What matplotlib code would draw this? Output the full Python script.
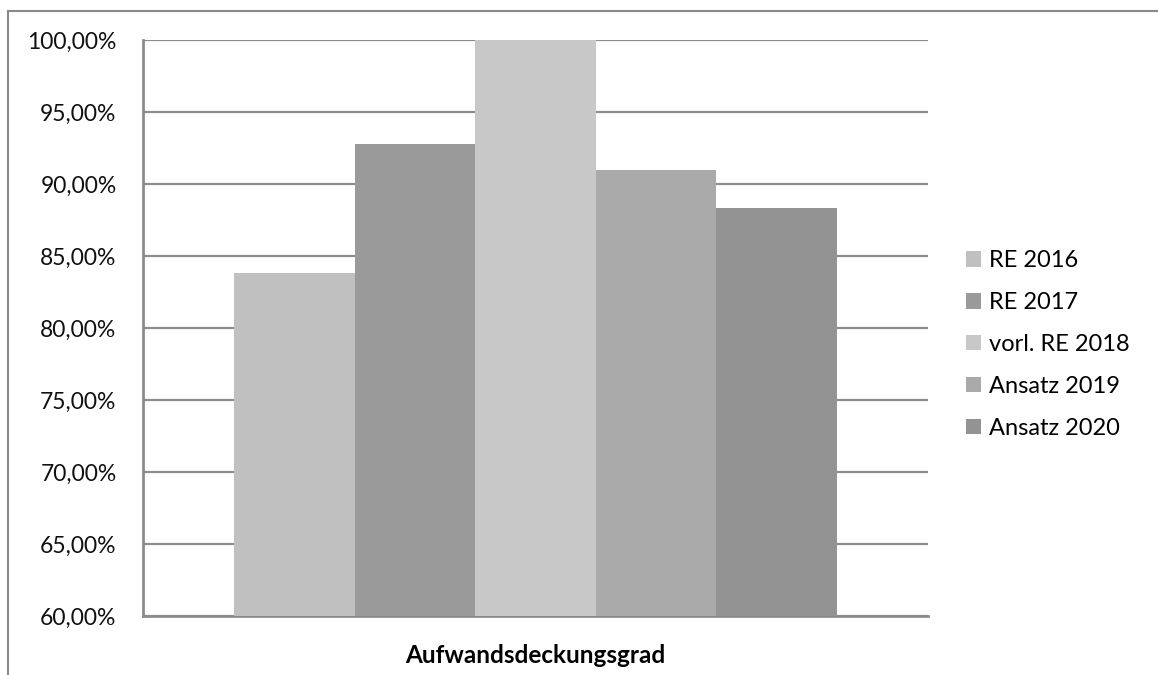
import matplotlib
matplotlib.use("Agg")
import matplotlib.pyplot as plt
from matplotlib.lines import Line2D
from matplotlib.patches import Patch
from matplotlib.ticker import FuncFormatter

# Data
category = "Aufwandsdeckungsgrad"
series = ["RE 2016", "RE 2017", "vorl. RE 2018", "Ansatz 2019", "Ansatz 2020"]
values = [83.85, 92.78, 100.0, 90.97, 88.33]
colors = ["#c0c0c0", "#9a9a9a", "#c8c8c8", "#aaaaaa", "#939393"]
yticks = [60, 65, 70, 75, 80, 85, 90, 95, 100]

plt.rcParams["font.family"] = ["Lato", "DejaVu Sans"]

W, H = 1158, 675
fig = plt.figure(figsize=(W / 100, H / 100), dpi=100)
ax = fig.add_axes([143 / W, 59 / H, 785 / W, 576 / H])

width = 603 / 785 / len(series)
n = len(series)
for i, (s, v, c) in enumerate(zip(series, values, colors)):
    x = (i - (n - 1) / 2) * width
    ax.bar(x, v - 60, bottom=60, width=width, color=c, label=s, zorder=3,
           linewidth=0)

ax.set_xlim(-0.5, 0.5)
ax.set_ylim(60, 100)
ax.set_yticks(yticks)
ax.yaxis.set_major_formatter(FuncFormatter(lambda v, p: f"{v:.2f}".replace(".", ",") + "%"))
ax.tick_params(axis="y", length=0, pad=19, labelsize=16.5, labelcolor="#111111")
ax.set_xticks([0])
ax.set_xticklabels([category], fontweight="bold", fontsize=17.5)
ax.tick_params(axis="x", length=0, pad=20)
ax.grid(axis="y", color="#8c8c8c", linewidth=1.6, zorder=1)
for side in ["top", "right"]:
    ax.spines[side].set_visible(False)
for side in ["left", "bottom"]:
    ax.spines[side].set_color("#8c8c8c")
    ax.spines[side].set_linewidth(2)

handles = [Patch(facecolor=c, edgecolor="none") for c in colors]
fig.legend(handles, series, loc="upper left", bbox_to_anchor=(957 / W, 1 - 241 / H),
           frameon=False, fontsize=17, handlelength=0.62, handleheight=0.62,
           handletextpad=0.35, labelspacing=0.88, borderaxespad=0)

# outer chart border (top and left parts visible)
fig.add_artist(Line2D([8 / W, 1], [1 - 11 / H, 1 - 11 / H], color="#8a8a8a",
                      linewidth=1.5, transform=fig.transFigure))
fig.add_artist(Line2D([8 / W, 8 / W], [0, 1 - 11 / H], color="#8a8a8a",
                      linewidth=1.5, transform=fig.transFigure))

fig.savefig("out.png", dpi=100)
